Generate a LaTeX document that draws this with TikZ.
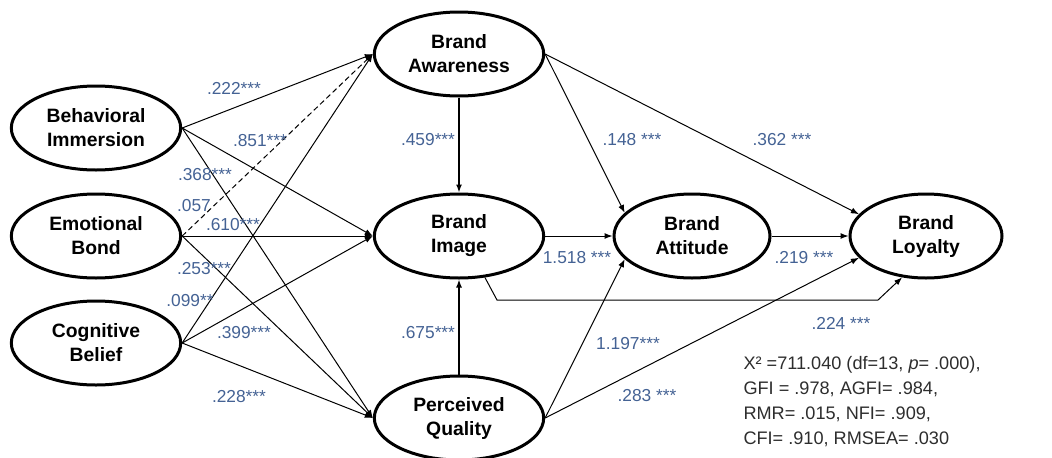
\documentclass[tikz,border=0pt]{standalone}
\usepackage{fontspec}
\setmainfont{Liberation Sans}
\usetikzlibrary{shapes.geometric,arrows.meta}

\definecolor{coefblue}{RGB}{68,98,148}
\definecolor{fitgray}{RGB}{45,45,45}

\tikzset{every picture/.style={line width=0.75pt}}
\tikzset{
  construct/.style={draw, ellipse, line width=2.25pt, minimum width=127pt, minimum height=63pt, inner sep=0pt, align=center, font=\fontsize{14.5}{18}\selectfont\bfseries},
  effect/.style={-{Latex[length=6pt,width=4.5pt]}},
  coef/.style={text=coefblue, inner sep=0.75pt, font=\fontsize{13}{15}\selectfont},
}

\begin{document}
\begin{tikzpicture}[x=0.75pt,y=0.75pt,yscale=-1,xscale=1]
        \useasboundingbox (0,0) rectangle (1052,457);

        %Shape: Ellipse [exogenous]
        \node [construct] (behav) at (96,128) {Behavioral\\Immersion};
        %Shape: Ellipse
        \node [construct] (emot) at (96,236) {Emotional\\Bond};
        %Shape: Ellipse
        \node [construct] (cogn) at (96,343) {Cognitive\\Belief};
        %Shape: Ellipse [brand equity]
        \node [construct] (aware) at (459,54) {Brand\\Awareness};
        %Shape: Ellipse
        \node [construct] (image) at (459,236) {Brand\\Image};
        %Shape: Ellipse
        \node [construct] (qual) at (459,418) {Perceived\\Quality};
        %Shape: Ellipse [outcomes]
        \node [construct, minimum width=117pt] (attit) at (692,236) {Brand\\Attitude};
        %Shape: Ellipse
        \node [construct, minimum width=114pt] (loyal) at (926,236) {Brand\\Loyalty};

        %Straight Lines [from Behavioral Immersion]
        \draw [effect] (behav.east) -- (aware.west);
        \draw [effect] (behav.east) -- (image.west);
        \draw [effect] (behav.east) -- (qual.west);
        %Straight Lines [from Emotional Bond]
        \draw [effect, dash pattern=on 4pt off 2.5pt] (emot.east) -- (aware.west);
        \draw [effect] (emot.east) -- (image.west);
        \draw [effect] (emot.east) -- (qual.west);
        %Straight Lines [from Cognitive Belief]
        \draw [effect] (cogn.east) -- (aware.west);
        \draw [effect] (cogn.east) -- (image.west);
        \draw [effect] (cogn.east) -- (qual.west);
        %Straight Lines [vertical]
        \draw [effect, line width=1.1pt] (aware.south) -- (image.north);
        \draw [effect, line width=1.1pt] (qual.north) -- (image.south);
        %Straight Lines [to Brand Attitude and Brand Loyalty]
        \draw [effect] (aware.east) -- (attit.161);
        \draw [effect] (aware.east) -- (loyal.162);
        \draw [effect] (image.east) -- (attit.west);
        \draw [effect] (attit.east) -- (loyal.west);
        \draw [effect] (qual.east) -- (attit.199);
        \draw [effect] (qual.east) -- (loyal.198);
        %Elbow Line [Brand Image to Brand Loyalty]
        \coordinate (bendA) at (497,300);
        \coordinate (bendB) at (878,300);
        \draw [effect] (image.302) -- (bendA) -- (bendB) -- (loyal.240);

        % Text Node
        \node [coef] (c222) at (234,88) {.222***};
        % Text Node
        \node [coef] (c851) at (260,141) {.851***};
        % Text Node
        \node [coef] (c368) at (205,175) {.368***};
        % Text Node
        \node [coef] (c057) at (194,206) {.057};
        % Text Node
        \node [coef] (c610) at (233,225) {.610***};
        % Text Node
        \node [coef] (c253) at (204,269) {.253***};
        % Text Node
        \node [coef] (c099) at (190,301) {.099**};
        % Text Node
        \node [coef] (c399) at (244,333) {.399***};
        % Text Node
        \node [coef] (c228) at (239,397) {.228***};
        % Text Node
        \node [coef] (c459) at (428,140) {.459***};
        % Text Node
        \node [coef] (c675) at (428,333) {.675***};
        % Text Node
        \node [coef] (c148) at (632,140) {.148 ***};
        % Text Node
        \node [coef] (c362) at (782,140) {.362 ***};
        % Text Node
        \node [coef] (c1518) at (577,258) {1.518 ***};
        % Text Node
        \node [coef] (c219) at (804,258) {.219 ***};
        % Text Node
        \node [coef] (c224) at (841,323) {.224 ***};
        % Text Node
        \node [coef] (c1197) at (628,344) {1.197***};
        % Text Node
        \node [coef] (c283) at (647,396) {.283 ***};

        % Text Node [model fit]
        \node [anchor=north west, inner sep=0.75pt, align=left, text=fitgray, font=\fontsize{13.6}{18.75}\selectfont] (fit) at (742,355) {X² =711.040 (df=13, \textit{p}= .000),\\GFI = .978, AGFI= .984,\\RMR= .015, NFI= .909,\\CFI= .910, RMSEA= .030};

\end{tikzpicture}
\end{document}
